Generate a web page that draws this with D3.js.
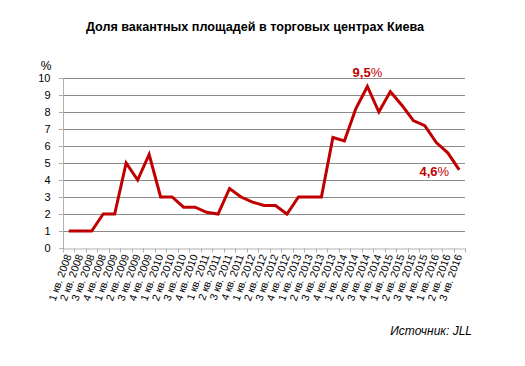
<!DOCTYPE html>
<html><head><meta charset="utf-8">
<script src="https://cdn.jsdelivr.net/npm/d3@7"></script>
<style>body{margin:0;background:#fff}svg{display:block;font-family:"Liberation Sans",Arial,sans-serif}</style>
</head><body>
<svg id="c" width="525" height="366"></svg>
<script>
const quarters = ["1 кв.","2 кв.","3 кв.","4 кв."];
const years = [2008,2009,2010,2011,2012,2013,2014,2015,2016];
const categories = [];
years.forEach(y => quarters.forEach(q => { if (categories.length < 35) categories.push(q + " " + y); }));
const values = [1.0,1.0,1.0,2.0, 2.0,5.0,4.0,5.5, 3.0,3.0,2.4,2.4, 2.1,2.0,3.5,3.0,
                2.7,2.5,2.5,2.0, 3.0,3.0,3.0,6.5, 6.3,8.2,9.5,8.0, 9.2,8.4,7.5,7.2, 6.2,5.6,4.6];
const yTicks = [0,1,2,3,4,5,6,7,8,9,10];
const annotations = [{i:26, text:"9,5", dy:-10}, {i:34, text:"4,6", dx:-25, dy:6}];

(function(){
const svg = d3.select("#c");
const L = 63, R = 465, T = 78, B = 248;
const x = d3.scaleBand().domain(categories).range([L, R]);
const y = d3.scaleLinear().domain([0,10]).range([B, T]);

svg.append("text").attr("x",255).attr("y",31).attr("text-anchor","middle")
  .attr("font-size",12.6).attr("font-weight","bold").attr("fill","#000")
  .text("Доля вакантных площадей в торговых центрах Киева");

// gridlines
svg.append("g").selectAll("line").data(yTicks.filter(d=>d>0)).join("line")
  .attr("x1",L-4).attr("x2",R).attr("y1",d=>y(d)+0.5).attr("y2",d=>y(d)+0.5)
  .attr("stroke","#8c8c8c").attr("stroke-width",1);

// y axis
const ya = svg.append("g").attr("transform",`translate(${L+0.5},0)`)
  .call(d3.axisLeft(y).tickValues(yTicks).tickSize(4).tickPadding(9));
ya.select(".domain").attr("stroke","#b0b0b0").attr("d",`M-4,${B+0.5}H0V${T}`);
ya.selectAll(".tick line").attr("stroke","#b0b0b0");
ya.selectAll(".tick text").attr("font-size",11).attr("fill","#000").attr("font-family","Liberation Sans, Arial, sans-serif");

svg.append("text").attr("x",46).attr("y",70).attr("text-anchor","middle")
  .attr("font-size",12).text("%");

// x axis
const xa = svg.append("g").attr("transform",`translate(0,${B+0.5})`)
  .call(d3.axisBottom(x).tickSize(0).tickFormat(""));
xa.select(".domain").attr("stroke","#b0b0b0");
xa.selectAll(".tick").remove();
const bounds = categories.map(c=>x(c)).concat([R]);
xa.append("g").selectAll("line").data(bounds).join("line")
  .attr("x1",d=>Math.round(d)+0.5).attr("x2",d=>Math.round(d)+0.5).attr("y1",0).attr("y2",4)
  .attr("stroke","#b0b0b0");
svg.append("g").selectAll("text").data(categories).join("text")
  .attr("transform",d=>`translate(${x(d)+x.bandwidth()/2+3},${B+8}) rotate(-70)`)
  .attr("text-anchor","end").attr("font-size",10.6).attr("fill","#000")
  .text(d=>d);

// line
const line = d3.line().x((d,i)=>x(categories[i])+x.bandwidth()/2).y(d=>y(d));
svg.append("path").datum(values).attr("d",line).attr("fill","none")
  .attr("stroke","#c00000").attr("stroke-width",3).attr("stroke-linejoin","miter");

// annotations
annotations.forEach(a=>{
  const t = svg.append("text")
    .attr("x", x(categories[a.i])+x.bandwidth()/2 + (a.dx||0))
    .attr("y", y(values[a.i]) + a.dy)
    .attr("text-anchor","middle").attr("fill","#c00000").attr("font-size",13);
  t.append("tspan").attr("font-weight","bold").text(a.text);
  t.append("tspan").text("%");
});

svg.append("text").attr("x",472).attr("y",335).attr("text-anchor","end")
  .attr("font-size",12).attr("font-style","italic").attr("fill","#000").text("Источник: JLL");
})();
</script>
</body></html>
